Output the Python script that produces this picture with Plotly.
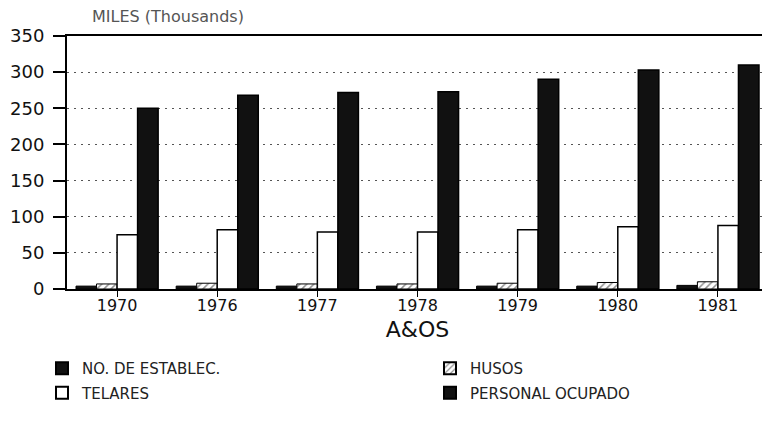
import plotly.graph_objects as go

years = ["1970", "1976", "1977", "1978", "1979", "1980", "1981"]
establec = [4, 4, 4, 4, 4, 4, 5]
husos = [7, 8, 7, 7, 8, 9, 10]
telares = [75, 82, 79, 79, 82, 86, 88]
personal = [250, 268, 272, 273, 290, 303, 310]
y_ticks = [0, 50, 100, 150, 200, 250, 300, 350]

FONT = "DejaVu Sans"
W, H = 770, 425
OFF = 8  # page body margin shifts the figure by 8px
# target screen coordinates of plot area
SX0, SX1, SY0, SY1 = 67, 768, 36, 289
L = SX0 - OFF
R = W - (SX1 - OFF)
T = SY0 - OFF
B = H - (SY1 - OFF)

fig = go.Figure()
fig.add_trace(go.Bar(x=years, y=establec, name="NO. DE ESTABLEC.", legend="legend",
                     legendgroup="a",
                     marker=dict(color="#111111", line=dict(color="#000", width=1))))
fig.add_trace(go.Bar(x=years, y=husos, name="HUSOS", legend="legend2", legendgroup="b",
                     marker=dict(color="white", line=dict(color="#000", width=1),
                                 pattern=dict(shape="/", fgcolor="#222", bgcolor="white",
                                              size=5, solidity=0.3))))
fig.add_trace(go.Bar(x=years, y=telares, name="TELARES", legend="legend", legendgroup="c",
                     marker=dict(color="white", line=dict(color="#000", width=1.5))))
fig.add_trace(go.Bar(x=years, y=personal, name="PERSONAL OCUPADO", legend="legend2",
                     legendgroup="d",
                     marker=dict(color="#111111", line=dict(color="#000", width=1.5))))

leg_common = dict(orientation="v", xref="container", yref="container",
                  xanchor="left", yanchor="top", font=dict(size=15, family=FONT, color="#222"),
                  tracegroupgap=2, bgcolor="rgba(0,0,0,0)", itemsizing="constant")

fig.update_layout(
    width=W, height=H,
    margin=dict(l=L, r=R, t=T, b=B, autoexpand=False),
    paper_bgcolor="white", plot_bgcolor="white",
    barmode="group", bargap=0.18, bargroupgap=0.0,
    font=dict(family=FONT, color="#111"),
    showlegend=True,
    legend=dict(x=(42 - OFF) / W, y=1 - (352 - OFF) / H, **leg_common),
    legend2=dict(x=(430 - OFF) / W, y=1 - (352 - OFF) / H, **leg_common),
)

pw, ph = W - L - R, H - T - B
fig.add_annotation(text="MILES (Thousands)", x=(90 - SX0) / pw, y=1 + (SY0 - 17) / ph,
                   xref="paper", yref="paper", xanchor="left", yanchor="middle",
                   showarrow=False, font=dict(size=16, color="#555", family=FONT))

fig.update_yaxes(range=[0, 350], tickvals=y_ticks, ticks="outside", ticklen=12, tickcolor="#000",
                 tickwidth=1.5, ticklabelstandoff=5,
                 showline=True, linecolor="#000", linewidth=2, mirror=True,
                 showgrid=True, gridcolor="#555", griddash="2px,5px", gridwidth=1,
                 tickfont=dict(size=18, family=FONT), zeroline=False)
fig.update_xaxes(ticks="outside", ticklen=6, tickcolor="#000", showline=True, linecolor="#000",
                 linewidth=2, mirror=True, tickfont=dict(size=16, family=FONT),
                 ticklabelstandoff=-5,
                 title=dict(text="A&OS", font=dict(size=22, family=FONT), standoff=7))

fig.write_html("out.html")
